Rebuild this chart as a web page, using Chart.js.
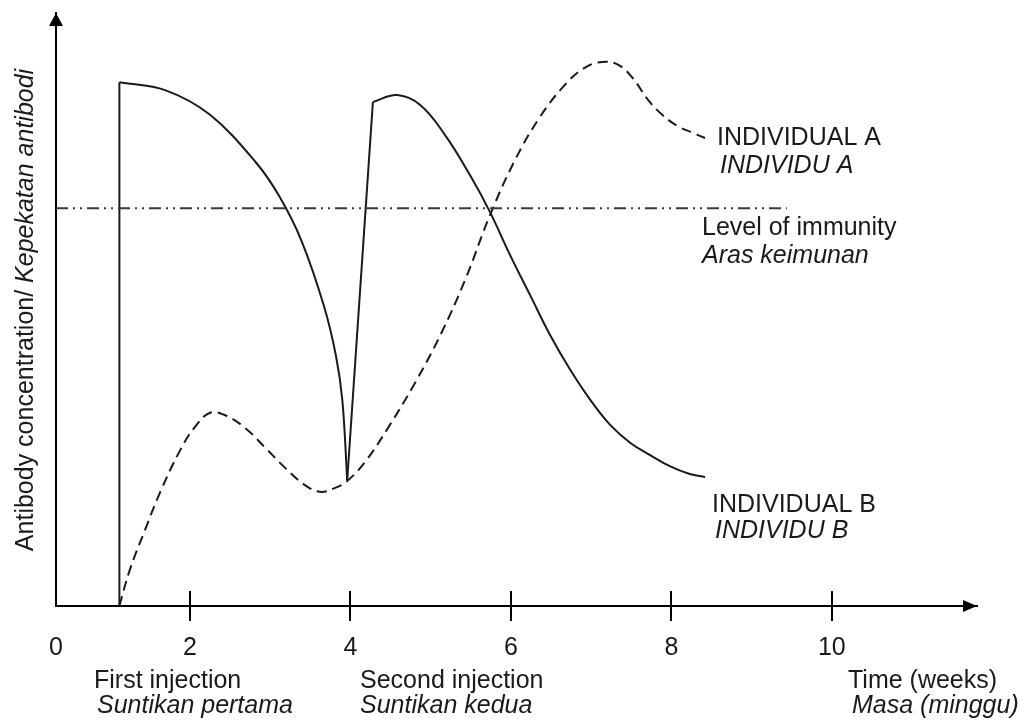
<!DOCTYPE html>
<html>
<head>
<meta charset="utf-8">
<script src="https://cdn.jsdelivr.net/npm/chart.js@4.4.0/dist/chart.umd.min.js"></script>
<style>
  html, body { margin: 0; padding: 0; background: #fff; }
  #chart { display: block; }
</style>
</head>
<body>
<canvas id="chart" width="1026" height="722"></canvas>
<script>
// x axis in weeks, y axis in arbitrary antibody units
const xMin = 0.33;
const xMax = 11.81;
const yMax = 12;
const xTickValues = [2, 4, 6, 8, 10];
const originLabel = '0';

// Individual A (dashed)
const aWeeks = [1.12, 1.25, 1.44, 1.63, 1.88, 2.06, 2.25, 2.44, 2.69, 2.94, 3.19, 3.43, 3.62, 3.81, 3.96,
  4.18, 4.49, 4.81, 5.12, 5.43, 5.74, 6.05, 6.36, 6.67, 6.92, 7.14, 7.34, 7.52, 7.71, 7.88, 8.07, 8.26, 8.42];
const aLevel = [0, 0.73, 1.54, 2.31, 3.16, 3.62, 3.91, 3.86, 3.60, 3.20, 2.79, 2.45, 2.31, 2.39, 2.53,
  2.91, 3.66, 4.53, 5.48, 6.60, 7.91, 9.02, 9.89, 10.54, 10.89, 11.01, 10.95, 10.68, 10.24, 9.95, 9.72, 9.58, 9.47];

// Individual B (solid) - after first injection, then after second injection
const bFirstWeeks = [1.12, 1.69, 2.25, 2.82, 3.11, 3.39, 3.67, 3.82, 3.90, 3.96];
const bFirstLevel = [10.60, 10.44, 9.94, 8.98, 8.30, 7.39, 6.07, 5.06, 4.15, 2.55];
const bSecondWeeks = [4.28, 4.58, 4.87, 5.18, 5.49, 5.74, 5.99, 6.24, 6.49, 6.74, 6.99, 7.24, 7.49, 7.73, 7.98, 8.23, 8.42];
const bSecondLevel = [10.20, 10.34, 10.14, 9.53, 8.72, 7.97, 7.10, 6.29, 5.48, 4.78, 4.17, 3.66, 3.30, 3.06, 2.83, 2.67, 2.61];

// level of immunity
const immunityLevel = 8.05;
const immunityEnd = 9.44;

const FONT = '"Liberation Sans", Arial, sans-serif';
const INK = '#1a1a1a';

function toPoints(xs, ys) {
  return xs.map((x, i) => ({ x: x, y: ys[i] }));
}

const bFirst = toPoints(bFirstWeeks, bFirstLevel);
const bSecond = toPoints(bSecondWeeks, bSecondLevel);

const lineBase = {
  showLine: true,
  pointRadius: 0,
  fill: false,
  clip: false,
  borderColor: INK,
  borderWidth: 2,
  tension: 0,
};

// texts placed around the plot
const notes = [
  { text: 'INDIVIDUAL A', x: 717, y: 145, style: 'normal' },
  { text: 'INDIVIDU A', x: 720, y: 173, style: 'italic' },
  { text: 'Level of immunity', x: 702, y: 235, style: 'normal' },
  { text: 'Aras keimunan', x: 702, y: 263, style: 'italic' },
  { text: 'INDIVIDUAL B', x: 712, y: 512, style: 'normal' },
  { text: 'INDIVIDU B', x: 715, y: 538, style: 'italic' },
  { text: 'First injection', x: 94, y: 688, style: 'normal' },
  { text: 'Suntikan pertama', x: 97, y: 713, style: 'italic' },
  { text: 'Second injection', x: 360, y: 688, style: 'normal' },
  { text: 'Suntikan kedua', x: 360, y: 713, style: 'italic' },
  { text: 'Time (weeks)', x: 848, y: 688, style: 'normal' },
  { text: 'Masa (minggu)', x: 852, y: 713, style: 'italic' },
];

const axisDecor = {
  id: 'axisDecor',
  afterDraw(chart) {
    const { ctx, chartArea, scales } = chart;
    const left = chartArea.left;
    const bottom = chartArea.bottom;
    ctx.save();
    ctx.fillStyle = '#000';
    ctx.strokeStyle = '#000';
    ctx.lineWidth = 2;

    // arrow heads
    ctx.beginPath();
    ctx.moveTo(left, chartArea.top);
    ctx.lineTo(left - 7, chartArea.top + 13);
    ctx.lineTo(left + 7, chartArea.top + 13);
    ctx.closePath();
    ctx.fill();
    ctx.beginPath();
    ctx.moveTo(chartArea.right, bottom);
    ctx.lineTo(chartArea.right - 14, bottom - 6);
    ctx.lineTo(chartArea.right - 14, bottom + 6);
    ctx.closePath();
    ctx.fill();

    // tick crosses on x axis
    xTickValues.forEach((v) => {
      const px = Math.round(scales.x.getPixelForValue(v));
      ctx.beginPath();
      ctx.moveTo(px, bottom - 15);
      ctx.lineTo(px, bottom + 15);
      ctx.stroke();
    });

    // notes
    ctx.fillStyle = INK;
    ctx.textAlign = 'left';
    ctx.textBaseline = 'alphabetic';
    notes.forEach((n) => {
      ctx.font = n.style + ' 25px ' + FONT;
      ctx.fillText(n.text, n.x, n.y);
    });

    // y title with mixed styles
    const partA = 'Antibody concentration/ ';
    const partB = 'Kepekatan antibodi';
    ctx.font = 'normal 25px ' + FONT;
    const wA = ctx.measureText(partA).width;
    ctx.font = 'italic 25px ' + FONT;
    const wB = ctx.measureText(partB).width;
    const total = wA + wB;
    ctx.translate(33, 310);
    ctx.rotate(-Math.PI / 2);
    ctx.font = 'normal 25px ' + FONT;
    ctx.fillText(partA, -total / 2, 0);
    ctx.font = 'italic 25px ' + FONT;
    ctx.fillText(partB, -total / 2 + wA, 0);
    ctx.restore();
  },
};

new Chart(document.getElementById('chart'), {
  type: 'scatter',
  data: {
    datasets: [
      {
        ...lineBase,
        label: 'Level of immunity',
        data: [{ x: xMin, y: immunityLevel }, { x: immunityEnd, y: immunityLevel }],
        borderColor: '#3a3a3a',
        borderDash: [12, 5, 2, 5, 2, 5],
      },
      {
        ...lineBase,
        label: 'Individual A',
        data: toPoints(aWeeks, aLevel),
        borderDash: [10, 6],
        tension: 0.4,
      },
      {
        ...lineBase,
        label: 'Individual B',
        data: [{ x: bFirstWeeks[0], y: 0 }, bFirst[0]],
      },
      {
        ...lineBase,
        label: 'Individual B',
        data: bFirst,
        tension: 0.35,
      },
      {
        ...lineBase,
        label: 'Individual B',
        data: [bFirst[bFirst.length - 1], bSecond[0]],
      },
      {
        ...lineBase,
        label: 'Individual B',
        data: bSecond,
        tension: 0.4,
      },
    ],
  },
  options: {
    responsive: false,
    animation: false,
    layout: { padding: { top: 13, right: 49, left: 0, bottom: 0 } },
    plugins: {
      legend: { display: false },
      tooltip: { enabled: false },
    },
    scales: {
      x: {
        type: 'linear',
        min: xMin,
        max: xMax,
        grid: { display: false, drawTicks: false },
        border: { color: '#000', width: 2 },
        ticks: {
          autoSkip: false,
          maxRotation: 0,
          padding: 27,
          color: INK,
          font: { family: FONT, size: 25 },
          callback: (value) => (value === xMin ? originLabel : value),
        },
        afterBuildTicks: (scale) => {
          scale.ticks = [xMin, ...xTickValues].map((value) => ({ value }));
        },
        afterFit: (scale) => {
          scale.height = 116;
        },
      },
      y: {
        type: 'linear',
        min: 0,
        max: yMax,
        grid: { display: false, drawTicks: false },
        border: { color: '#000', width: 2 },
        ticks: { display: false },
        afterFit: (scale) => {
          scale.width = 56;
        },
      },
    },
  },
  plugins: [axisDecor],
});
</script>
</body>
</html>
